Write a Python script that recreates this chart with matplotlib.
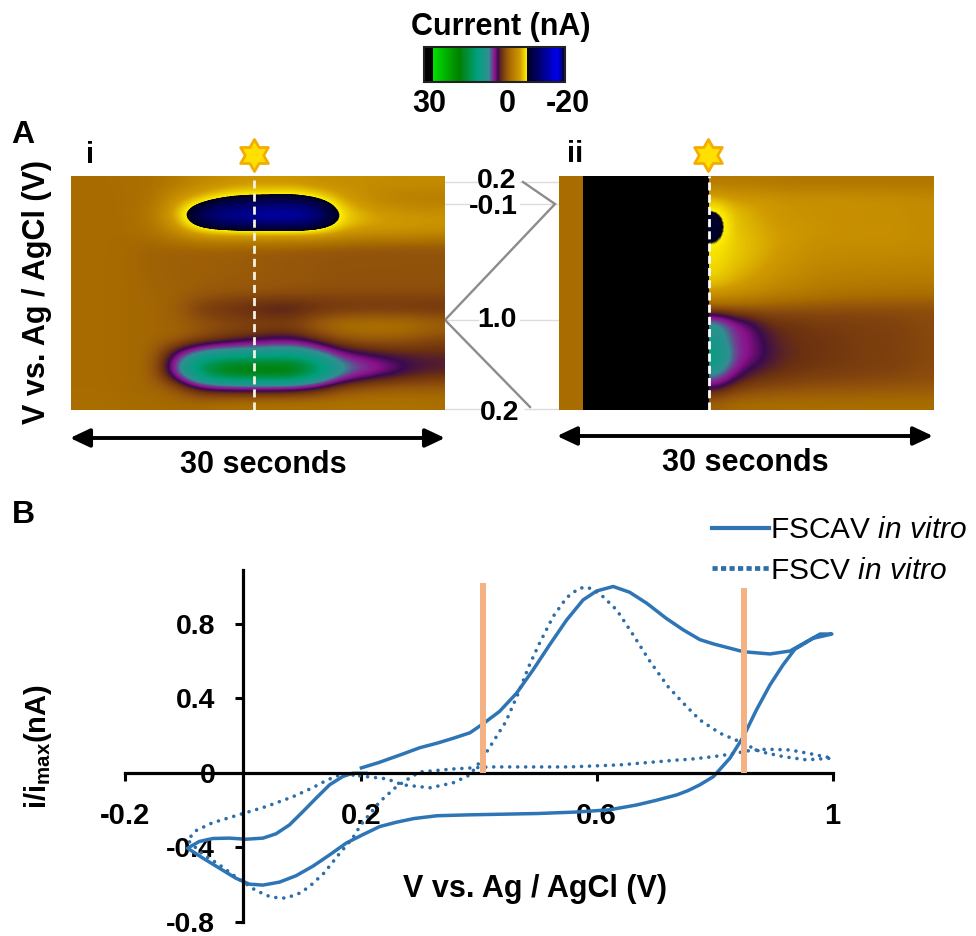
import matplotlib
matplotlib.use("Agg")
import matplotlib.pyplot as plt
import numpy as np
from matplotlib.colors import LinearSegmentedColormap, Normalize
from matplotlib.cm import ScalarMappable
from matplotlib.path import Path

plt.rcParams['font.family'] = ['Liberation Sans', 'DejaVu Sans']
plt.rcParams['mathtext.fontset'] = 'custom'
plt.rcParams['mathtext.rm'] = 'Liberation Sans'
plt.rcParams['mathtext.it'] = 'Liberation Sans:italic'
plt.rcParams['mathtext.bf'] = 'Liberation Sans:bold'

W, H = 976, 936

# ---------- data ----------
cbar_nodes = [0.0, 0.06, 0.062, 0.25, 0.38, 0.46, 0.49, 0.505, 0.525, 0.55, 0.59, 0.61, 0.68, 0.72, 0.729, 0.733, 0.95, 0.985, 1.0]
cbar_colors = ['#000000', '#000000', '#00e000', '#008000', '#00a080', '#2f8f90', '#7a3090', '#8a108a', '#3a0a50',
               '#6b3010', '#98580a', '#a86c00', '#d09a00', '#f5e000', '#ffee00', '#000020', '#0000f0',
               '#000060', '#000000']
cbar_min, cbar_max = -20, 30
cbar_ticks = [30, 0, -20]

heat_i = [
 [-.5,-.5,-.6,-.8,-1.5,-2.5,-3,-3.5,-3.5,-3.5,-3,-3,-3,-3,-3,-3],
 [-.5,-.5,-.5,-1,-3.5,-5,-6.9,-7.6,-7.6,-8,-6.8,-4.5,-3,-2,-1.6,-1.6],
 [-.5,-.5,-.5,-1.5,-5,-11,-14,-15,-16,-16,-14,-6.2,-5,-4,-3.8,-3.5],
 [-.5,-.5,-.5,-1,-3,-5.5,-6.2,-6.4,-6.4,-6.4,-6.2,-5,-4,-4,-3.8,-3.5],
 [-.5,-.5,-.3,0,.1,.1,.2,.3,.4,.5,.6,.7,.7,.8,.8,.8],
 [-.5,-.5,-.3,0,.1,.2,.2,.3,.5,.6,.7,.8,.8,.8,.8,.8],
 [-.5,-.5,-.3,0,.1,.2,.3,.4,.5,.6,.7,.8,.8,.8,.8,.8],
 [-.5,-.5,-.3,-.2,0,.3,.5,.6,.7,.8,.9,1,1,1,1,1],
 [-.5,-.5,-.3,-.2,.2,2,2.6,3,3.6,3.6,3,2.6,2.5,2.5,2.5,2.6],
 [-.5,-.5,-.3,-.2,0,.5,1,1.2,1.2,1.2,-.3,-1.2,-1.4,-1.4,-1.2,-.5],
 [-.5,-.5,-.3,-.2,-.1,1,2,2.8,3.6,3.8,2.5,1,.5,.5,.8,1.5],
 [-.5,-.5,-.3,-.2,5,8.8,9.8,10,10,10.5,8.5,5.2,4.2,3.6,3.2,3],
 [-.5,-.5,-.3,-.2,6.5,15,20,21,21,21,15,8.5,6.5,5.2,4,3.4],
 [-.5,-.5,-.3,-.2,.5,3.8,4.4,4.7,4.7,4.4,3.5,1.5,.8,.5,.5,.4],
 [-.6,-.6,-.5,-.4,-.4,-.5,-.8,-1,-1,-1,-1,-1,-1,-1,-1,-.8],
]
heat_ii = [
 [-1.5,-1.5,-1.5,-1.4,-1.3,-1.2,-1.2,-1.2,-1.2,-1.2,-1.2,-1.2,-1.2,-1.2],
 [-5,-4.2,-4,-3.8,-3.5,-3.4,-3.4,-3.4,-3.4,-3.3,-3.2,-3.2,-3,-3],
 [-7.3,-5.2,-4.6,-4,-3.6,-3.3,-3.2,-3.2,-3.1,-3,-3,-3,-2.9,-2.8],
 [-7.8,-5.2,-4.8,-4.4,-4,-3.8,-3.5,-3.4,-3.3,-3.2,-3.2,-3.2,-3,-3],
 [-6.2,-5.5,-5,-4.5,-4,-3.5,-3.2,-3,-3,-3,-3,-3,-2.9,-2.8],
 [-6,-5.2,-4.8,-4.2,-3.6,-3.2,-2.8,-2.6,-2.5,-2.5,-2.4,-2.4,-2.4,-2.3],
 [-5.5,-4.8,-4.2,-3.6,-3,-2.6,-2.2,-2,-2,-1.9,-1.9,-1.8,-1.8,-1.8],
 [-4,-3.5,-3,-2.5,-2,-1.8,-1.5,-1.2,-1,-1,-.9,-.9,-.8,-.8],
 [1,.8,.8,.8,.9,1,1,1,1.1,1.1,1.1,1.1,1.1,1.1],
 [8,5.4,4.4,3,2.5,2.3,2.1,2,1.9,1.8,1.7,1.6,1.4,1.2],
 [8.5,5.6,4.6,3.6,2.8,2.5,2.3,2.2,2,1.9,1.8,1.7,1.5,1.3],
 [11,6,4.8,3.8,3,2.7,2.4,2.2,2.1,1.9,1.8,1.7,1.5,1.3],
 [8,5.2,3.6,3,2.6,2.3,2.1,2,1.9,1.8,1.7,1.6,1.4,1.2],
 [4.2,2.5,1.8,1.5,1.3,1.2,1,1,.9,.9,.8,.8,.7,.7],
 [0,-.5,-.5,-.6,-.6,-.6,-.6,-.6,-.6,-.6,-.6,-.6,-.6,-.6],
]
scan_seconds = 30
stim_i = 14.7
stim_ii = 12.0
black_start_ii = 1.9
voltage_labels = ['0.2', '-0.1', '1.0', '0.2']

fscav_v = [.201,.23,.27,.30,.33,.356,.385,.408,.435,.464,.492,.52,.549,.577,.6,.628,.656,.685,.718,.747,.775,.798,.849,.894,.928,.956,.979,.999,
           .967,.936,.916,.894,.871,.849,.826,.798,.775,.755,.736,.7,.668,.622,.566,.5,.385,.329,.29,.26,.232,.203,.175,.147,.119,.09,.062,.034,.011,-.012,-.04,-.068,-.094,
           -.074,-.051,-.023,.005,.034,.056,.079,.102,.124,.147,.169,.186,.209]
fscav_i = [.027,.055,.1,.135,.16,.185,.215,.265,.329,.427,.552,.686,.82,.928,.976,1.0,.969,.91,.829,.767,.715,.692,.65,.638,.654,.704,.745,.745,
           .722,.663,.579,.472,.338,.195,.079,-.02,-.064,-.095,-.118,-.148,-.172,-.198,-.21,-.218,-.225,-.23,-.245,-.265,-.288,-.332,-.377,-.44,-.5,-.552,-.586,-.602,-.597,-.565,-.511,-.457,-.404,
           -.368,-.352,-.35,-.356,-.35,-.327,-.279,-.207,-.136,-.064,-.02,-.002,-.002]
fscv_v = [.198,.244,.271,.317,.356,.385,.407,.425,.446,.467,.486,.503,.526,.549,.57,.584,.605,.634,.662,.69,.721,.747,.775,.809,.849,.877,.917,.956,.999,
          .967,.928,.888,.86,.826,.798,.758,.741,.64,.554,.418,.356,.30,.283,.26,.232,.2,.186,.162,.138,.118,.099,.073,.048,.022,-.009,-.04,-.069,-.094,
          -.079,-.052,-.003,.039,.084,.118,.143,.169,.198]
fscv_i = [-.016,-.032,-.064,-.08,-.054,-.011,.08,.17,.275,.427,.579,.695,.838,.94,.99,.997,.963,.874,.74,.6,.463,.374,.284,.213,.159,.114,.087,.07,.079,
          .1,.123,.127,.12,.1,.087,.073,.07,.043,.032,.032,.021,.005,-.027,-.075,-.155,-.279,-.35,-.44,-.536,-.595,-.642,-.672,-.667,-.631,-.565,-.493,-.434,-.36,
          -.309,-.268,-.221,-.181,-.129,-.08,-.038,-.005,-.016]
window_v = [.408, .85]
window_top = [1.02, .99]
xticks_b = [-.2, .2, .6, 1]
xticklabels_b = ['-0.2', '0.2', '0.6', '1']
yticks_b = [-.8, -.4, 0, .4, .8]
yticklabels_b = ['-0.8', '-0.4', '0', '0.4', '0.8']

# ---------- helpers ----------
fig = plt.figure(figsize=(W/100, H/100), dpi=100, facecolor='white')

def px_axes(x0, y0, x1, y1, **kw):
    return fig.add_axes([x0/W, 1-y1/H, (x1-x0)/W, (y1-y0)/H], **kw)

cmap = LinearSegmentedColormap.from_list('fscv', list(zip(cbar_nodes, cbar_colors)), N=1024)
# value v maps to position p = (30 - v)/50 along the bar
cmap_r = cmap.reversed()
norm = Normalize(cbar_min, cbar_max)

# overlay in pixel coordinates for annotation
ov = px_axes(0, 0, W, H, zorder=0)
ov.set_xlim(0, W); ov.set_ylim(H, 0); ov.axis('off')

# ---------- colour bar ----------
cax = px_axes(424, 47, 565, 82, zorder=3)
cb = fig.colorbar(ScalarMappable(norm=norm, cmap=cmap_r), cax=cax, orientation='horizontal')
cax.invert_xaxis()
cb.set_ticks([])
cb.outline.set_edgecolor('#222222'); cb.outline.set_linewidth(1.5)
bold = dict(fontweight='bold', color='black', ha='center', va='center')
ov.text(501, 27, 'Current (nA)', fontsize=22, **bold)
for t, x in zip(cbar_ticks, [429, 507, 568]):
    ov.text(x, 104, str(t), fontsize=22, **bold)

# ---------- heat maps ----------
axi = px_axes(71, 176, 445, 410, zorder=2)
axi.imshow(np.array(heat_i), cmap=cmap_r, norm=norm, aspect='auto', interpolation='bicubic',
           extent=(0, scan_seconds, 1, 0))
axi.axvline(stim_i, color='#f4f0e0', lw=2, dashes=(2.9, 1.8))
axi.set_xlim(0, scan_seconds); axi.set_ylim(1, 0); axi.axis('off')

axii = px_axes(559, 176, 933, 410, zorder=2)
axii.axvspan(0, black_start_ii, color='#a86c00', lw=0)
axii.axvspan(black_start_ii, stim_ii, color='black', lw=0)
axii.imshow(np.array(heat_ii), cmap=cmap_r, norm=norm, aspect='auto', interpolation='bicubic',
            extent=(stim_ii, scan_seconds, 1, 0))
axii.axvline(stim_ii, color='white', lw=2, dashes=(2.9, 1.5))
axii.set_xlim(0, scan_seconds); axii.set_ylim(1, 0); axii.axis('off')

star = Path.unit_regular_star(6, 0.577)
for x in (254, 708):
    ov.plot([x], [155], marker=star, ms=23, mfc='#ffe000', mec='#f5ac00', mew=2, ls='none', clip_on=False)

# voltage guides between the panels
for y0, segs in [(182, [(445, 480), (520, 559)]), (204, [(445, 470), (520, 559)]),
                 (320, [(445, 478), (520, 559)]), (409, [(445, 480), (525, 559)])]:
    for a, b in segs:
        ov.plot([a, b], [y0, y0], color='#dcdcdc', lw=1)
ov.plot([523, 555, 445, 530], [182, 204, 320, 407], color='#8c8c8c', lw=1.7, solid_joinstyle='miter')
for lab, x, y in zip(voltage_labels, [497, 493, 497, 500], [181, 207, 320, 413]):
    ov.text(x, y, lab, fontsize=20.5, **bold)

# panel text and arrows
ov.text(23, 135, 'A', fontsize=23, **bold)
ov.text(23, 515, 'B', fontsize=23, **bold)
ov.text(90, 155, 'i', fontsize=21, **bold)
ov.text(575, 154, 'ii', fontsize=21, **bold)
ov.text(37, 292, 'V vs. Ag / AgCl (V)', fontsize=22, rotation=90, **bold)
for x0, x1, yy, xt, yt in [(70, 445, 438, 263, 465), (557, 933, 436, 745, 463)]:
    ov.annotate('', xy=(x0, yy), xytext=(x1, yy),
                arrowprops=dict(arrowstyle='<|-|>,head_length=0.85,head_width=0.4', color='black', lw=2.8,
                                shrinkA=0, shrinkB=0, mutation_scale=14))
    ov.text(xt, yt, '30 seconds', fontsize=22, **bold)

# ---------- panel B ----------
ax = px_axes(125, 570, 832.5, 922, zorder=4)
ax.patch.set_alpha(0)
ax.set_xlim(-.2, 1)
ax.set_ylim(-.8, (773-570)/186.5)
blue = '#2e75b6'
l1, = ax.plot(fscav_v, fscav_i, color=blue, lw=2.5, label=r'FSCAV $\mathit{in\ vitro}$', clip_on=False, solid_joinstyle='round')
l2, = ax.plot(fscv_v, fscv_i, color='#2e6ea8', lw=2.6, ls=(0, (.01, 2.2)), dash_capstyle='round',
              label=r'FSCV $\mathit{in\ vitro}$', clip_on=False)
for v, top in zip(window_v, window_top):
    ax.plot([v, v], [0, top], color='#f4b183', lw=4.3, solid_capstyle='butt', zorder=5)
for s in ('top', 'right'):
    ax.spines[s].set_visible(False)
ax.spines['left'].set_position(('data', 0))
ax.spines['bottom'].set_position(('data', 0))
for s in ('left', 'bottom'):
    ax.spines[s].set_linewidth(2.3)
ax.set_xticks(xticks_b, xticklabels_b, fontsize=21, fontweight='bold')
ax.set_yticks(yticks_b, yticklabels_b, fontsize=20.5, fontweight='bold')
ax.tick_params(axis='x', direction='out', length=6, width=2.2, pad=15)
ax.tick_params(axis='y', direction='out', length=6, width=2.2, pad=14)
ax.yaxis.get_major_ticks()[2].tick1line.set_visible(False)
ov.text(535, 889, 'V vs. Ag / AgCl (V)', fontsize=22, **bold)
ov.text(38, 747, r'i/i$_{\mathbf{max}}$(nA)', fontsize=21, rotation=90, **bold)

leg = ax.legend(handles=[l1, l2], loc='upper left', bbox_to_anchor=(712/W, 1-516/H),
                bbox_transform=fig.transFigure, frameon=False, fontsize=21.5, handlelength=1.9,
                handletextpad=.05, labelspacing=.42, borderpad=0, borderaxespad=0)
h1, h2 = leg.get_lines()
h1.set_linewidth(3)
h2.set_linewidth(3.4)
h2.set_linestyle((0, (1.1, .7)))
h2.set_dash_capstyle('butt')

fig.savefig('out.png', dpi=100)
